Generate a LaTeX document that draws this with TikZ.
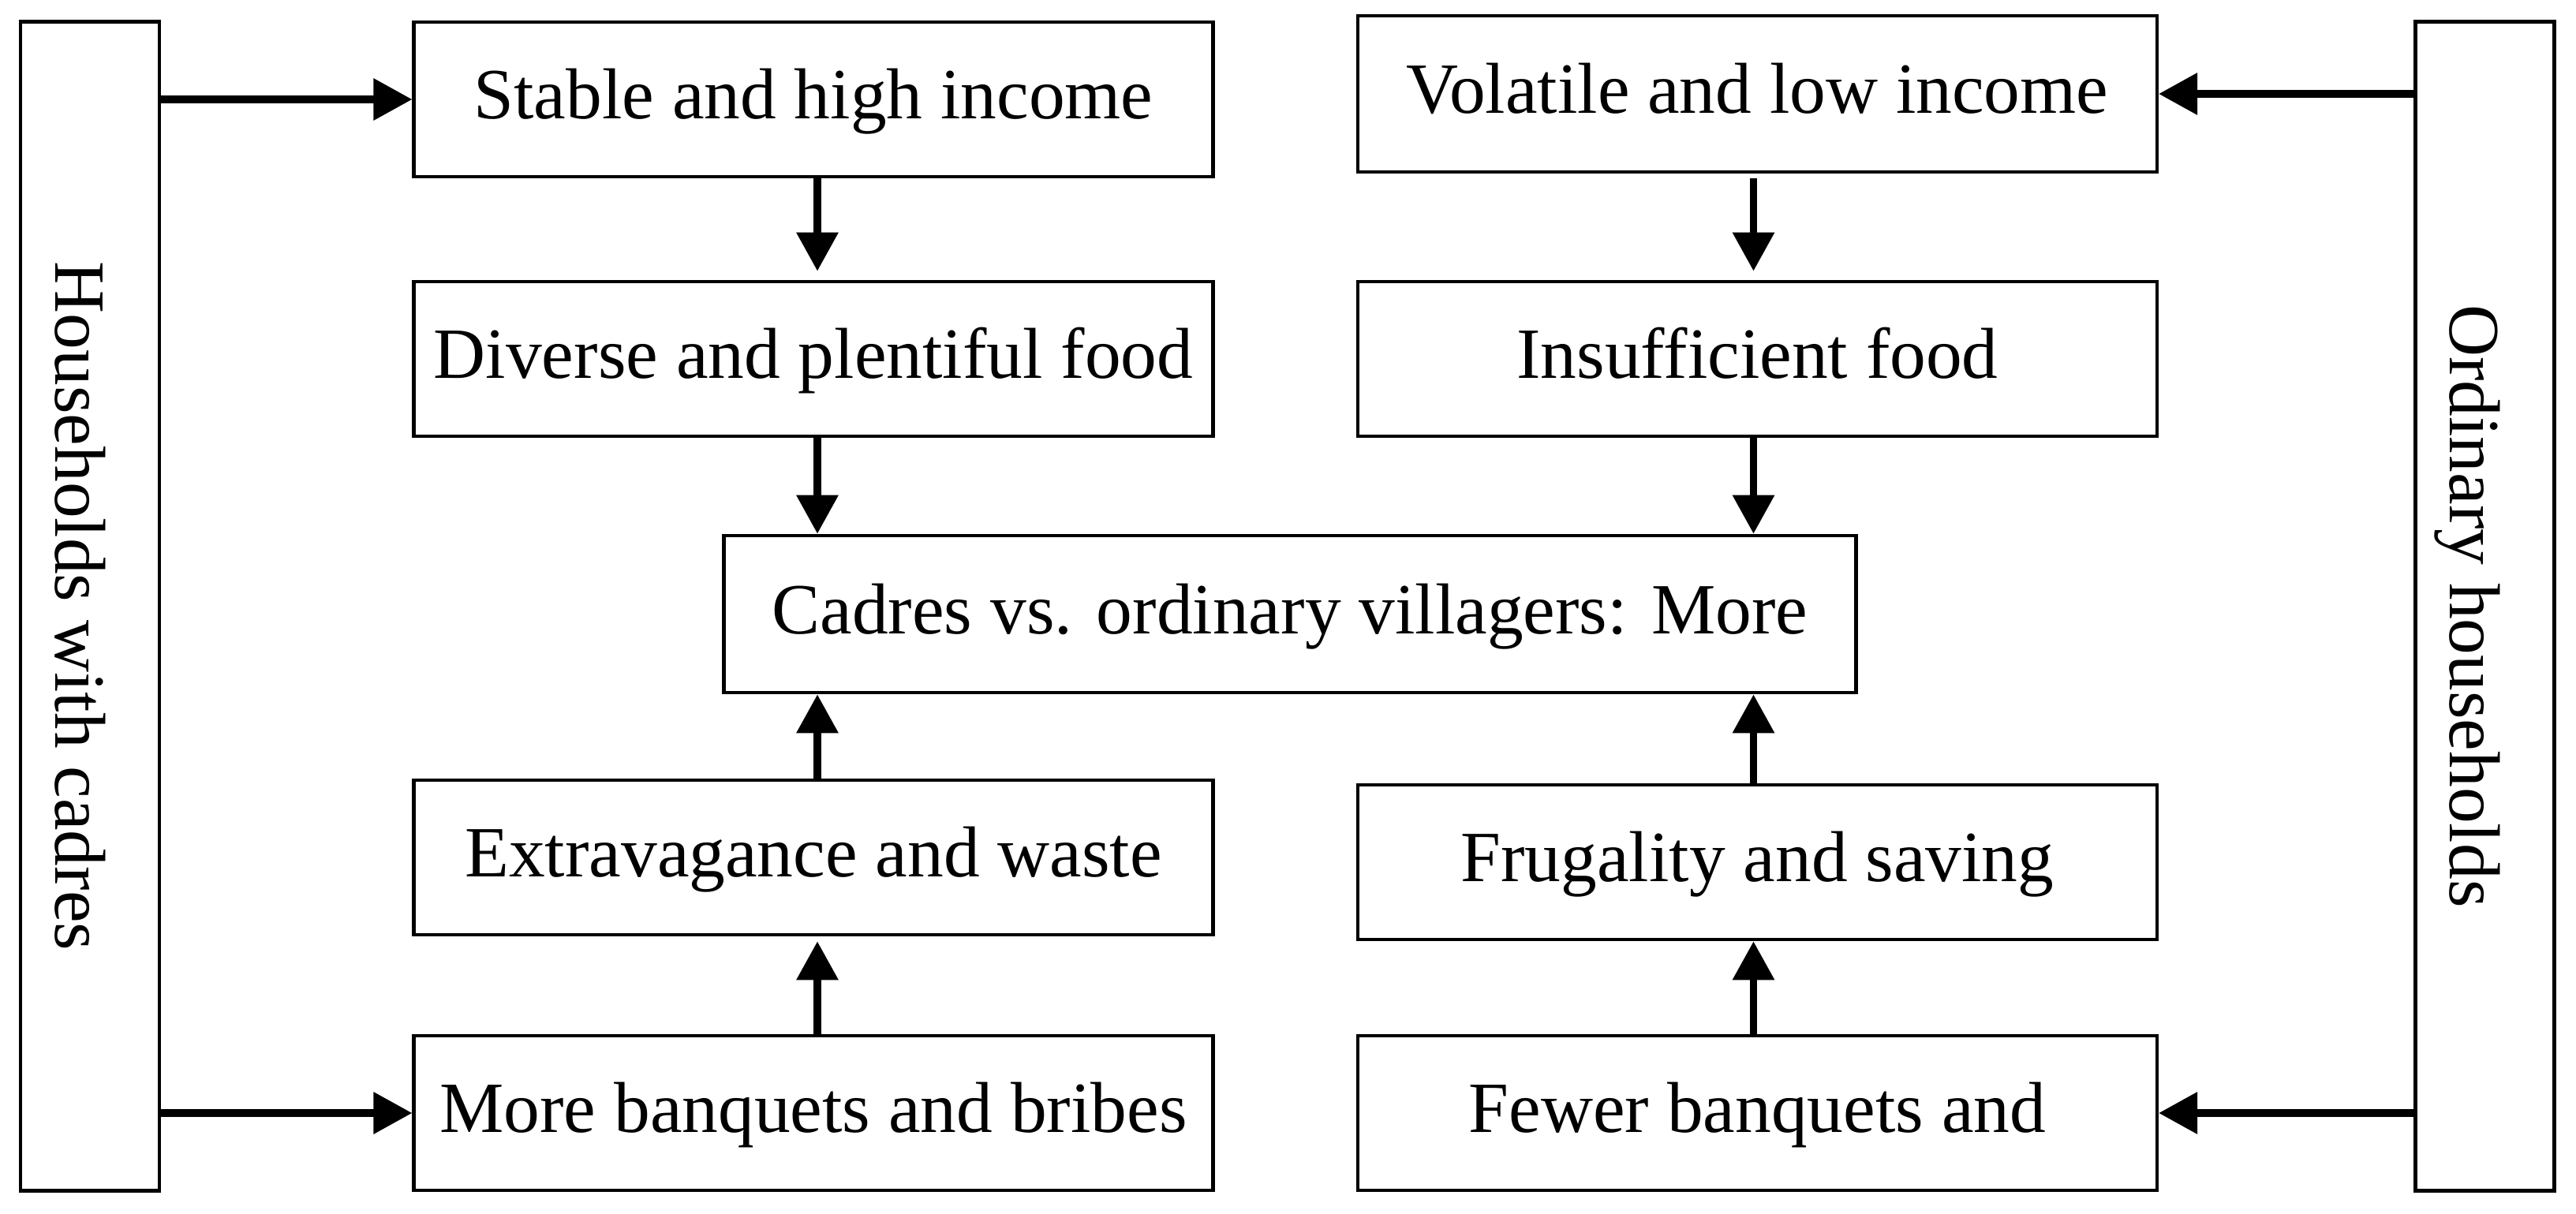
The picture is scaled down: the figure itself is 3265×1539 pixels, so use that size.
\documentclass[tikz,border=0pt]{standalone}
\usepackage{fontspec}
\setmainfont{Liberation Serif}
\usetikzlibrary{arrows.meta}
\begin{document}
\begin{tikzpicture}[x=0.01cm,y=-0.01cm,
  txt/.style={font=\fontsize{26}{30}\selectfont},
  box/.style={txt, draw, line width=0.045cm, minimum width=10.12cm, minimum height=1.96cm,
    inner sep=0pt, text height=18pt, text depth=4pt},
  side/.style={txt, draw, line width=0.045cm, rotate=-90, minimum width=14.81cm,
    minimum height=1.76cm, inner sep=0pt, text height=25pt, text depth=0pt},
  arr/.style={line width=0.095cm, -{Triangle[length=0.49cm,width=0.51cm]}}]
\useasboundingbox (0,0) rectangle (3265,1539);
% side boxes
\node[side] (hc) at (114,768.5) {Households with cadres};
\node[side] (oh) at (3149.5,768.5) {Ordinary households};
% left column
\node[box] (stable) at (1031,126) {Stable and high income};
\node[box] (diverse) at (1031,455) {Diverse and plentiful food};
\node[box] (extrav) at (1031,1087) {Extravagance and waste};
\node[box] (more) at (1031,1411) {More banquets and bribes};
% right column
\node[box, minimum height=1.98cm] (volatile) at (2227.5,119) {Volatile and low income};
\node[box] (insuff) at (2227.5,455) {Insufficient food};
\node[box] (frugal) at (2227.5,1093) {Frugality and saving};
\node[box] (fewer) at (2227.5,1411) {Fewer banquets and};
% centre
\node[box, minimum width=14.34cm, minimum height=1.99cm] (cadres) at (1635,778.5) {Cadres vs. ordinary villagers: More};
% connector columns
\coordinate (cL) at (1036,0);
\coordinate (cR) at (2222.5,0);
% horizontal arrows
\draw[arr] (hc.north |- stable.west) -- (stable.west);
\draw[arr] (hc.north |- more.west) -- (more.west);
\draw[arr] (oh.south |- volatile.east) -- (volatile.east);
\draw[arr] (oh.south |- fewer.east) -- (fewer.east);
% left column vertical arrows
\draw[arr, shorten >=0.11cm] (stable.south -| cL) -- (diverse.north -| cL);
\draw[arr] (diverse.south -| cL) -- (cadres.north -| cL);
\draw[arr] (extrav.north -| cL) -- (cadres.south -| cL);
\draw[arr, shorten >=0.06cm] (more.north -| cL) -- (extrav.south -| cL);
% right column vertical arrows
\draw[arr, shorten <=0.06cm, shorten >=0.11cm] (volatile.south -| cR) -- (insuff.north -| cR);
\draw[arr] (insuff.south -| cR) -- (cadres.north -| cR);
\draw[arr] (frugal.north -| cR) -- (cadres.south -| cR);
\draw[arr] (fewer.north -| cR) -- (frugal.south -| cR);
\end{tikzpicture}
\end{document}
